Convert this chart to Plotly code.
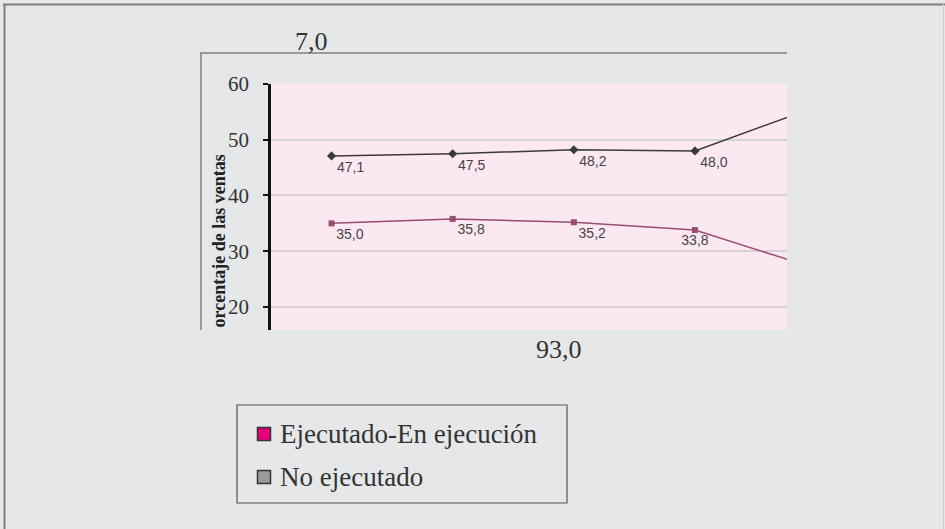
import plotly.graph_objects as go

# Period categories (axis labels are hidden in this panel)
periodos = ["P1", "P2", "P3", "P4", "P5"]

# Share of sales (%) per period
no_ejecutado = [47.1, 47.5, 48.2, 48.0, 55.9]
ejecutado = [35.0, 35.8, 35.2, 33.8, 26.9]

y_ticks = [20, 30, 40, 50, 60]

legend_labels = ["Ejecutado-En ejecución", "No ejecutado"]
legend_colors = ["#e6007e", "#9a9a9a"]

W, H = 945, 529
BG = "#e6e7e8"
SERIF = "Liberation Serif"


def px(x):
    return x / W


def py(y):
    return 1 - y / H


fig = go.Figure()

fig.add_trace(go.Scatter(
    x=periodos, y=no_ejecutado,
    mode="lines+markers+text",
    line=dict(color="#3a3a3a", width=1.5),
    marker=dict(symbol="diamond", size=7, color="#3a3a3a"),
    texttemplate="%{y:.1f}",
    textposition=["bottom right"] * 5,
    textfont=dict(family="Liberation Sans", size=14, color="#444444"),
    showlegend=False, cliponaxis=True,
))

fig.add_trace(go.Scatter(
    x=periodos, y=ejecutado,
    mode="lines+markers+text",
    line=dict(color="#9a4d72", width=1.5),
    marker=dict(symbol="square", size=6, color="#9a4d72"),
    texttemplate="%{y:.1f}",
    textposition=["bottom right", "bottom right", "bottom right", "bottom center", "bottom right"],
    textfont=dict(family="Liberation Sans", size=14, color="#444444"),
    showlegend=False, cliponaxis=True,
))

shapes = []
# outer frame
shapes.append(dict(type="line", xref="paper", yref="paper",
                   x0=px(3), x1=px(945), y0=py(4.5), y1=py(4.5),
                   line=dict(color="#7f7f7f", width=2)))
shapes.append(dict(type="line", xref="paper", yref="paper",
                   x0=px(4.5), x1=px(4.5), y0=py(4), y1=py(529),
                   line=dict(color="#7f7f7f", width=2)))
shapes.append(dict(type="line", xref="paper", yref="paper",
                   x0=px(943.5), x1=px(943.5), y0=py(4), y1=py(529),
                   line=dict(color="#cfcfd0", width=1)))
# inner chart box
shapes.append(dict(type="line", xref="paper", yref="paper",
                   x0=px(200), x1=px(787), y0=py(53), y1=py(53),
                   line=dict(color="#808080", width=1.5)))
shapes.append(dict(type="line", xref="paper", yref="paper",
                   x0=px(201), x1=px(201), y0=py(53), y1=py(330),
                   line=dict(color="#808080", width=1.5)))
# legend box and swatches
shapes.append(dict(type="rect", xref="paper", yref="paper",
                   x0=px(237), x1=px(567), y0=py(405), y1=py(503),
                   line=dict(color="#555555", width=1.2), fillcolor="rgba(0,0,0,0)"))
legend_y = [434, 477]
for lab, col, yc in zip(legend_labels, legend_colors, legend_y):
    shapes.append(dict(type="rect", xref="paper", yref="paper",
                       x0=px(257.5), x1=px(270.5), y0=py(yc - 6.5), y1=py(yc + 6.5),
                       line=dict(color="#333333", width=1.5), fillcolor=col))

annotations = [
    dict(text="7,0", x=px(311), y=py(42), xref="paper", yref="paper",
         xanchor="center", yanchor="middle",
         showarrow=False, font=dict(family=SERIF, size=26, color="#333333")),
    dict(text="93,0", x=px(559), y=py(349), xref="paper", yref="paper",
         xanchor="center", yanchor="middle",
         showarrow=False, font=dict(family=SERIF, size=26, color="#333333")),
    dict(text="<b>orcentaje de las ventas</b>", textangle=-90,
         x=px(218), y=py(330), xref="paper", yref="paper",
         xanchor="center", yanchor="bottom", showarrow=False,
         font=dict(family=SERIF, size=18, color="#222222")),
]
for lab, yc in zip(legend_labels, legend_y):
    annotations.append(dict(text=lab, x=px(278), y=py(yc), xref="paper", yref="paper",
                            xanchor="left", yanchor="middle", showarrow=False,
                            font=dict(family=SERIF, size=27, color="#333333")))

fig.update_layout(
    width=W, height=H, autosize=False,
    margin=dict(l=0, r=0, t=0, b=0, pad=0, autoexpand=False),
    paper_bgcolor=BG, plot_bgcolor="#fce8f1",
    separators=",.",
    shapes=shapes, annotations=annotations,
    xaxis=dict(domain=[px(271), px(787)], type="category",
               range=[-0.5, 3.76], showgrid=False, showticklabels=False,
               showline=False, zeroline=False, ticks="", automargin=False),
    yaxis=dict(domain=[py(330), py(84)], range=[15.87, 60],
               tickvals=y_ticks, showgrid=True, gridcolor="#d3d3d3", gridwidth=1.5,
               showline=True, linecolor="#111111", linewidth=2.5,
               ticks="outside", ticklen=5, tickcolor="#111111", tickwidth=1.5,
               ticklabelstandoff=10, automargin=False,
               tickfont=dict(family=SERIF, size=21, color="#333333"),
               zeroline=False),
)

fig.write_html("out.html")
